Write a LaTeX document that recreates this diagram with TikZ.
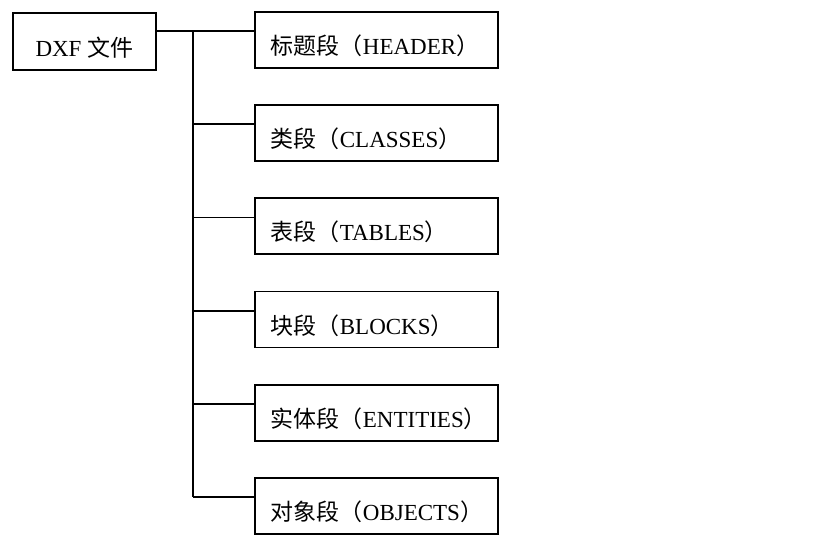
\documentclass[tikz,border=0pt]{standalone}
\usepackage{fontspec}
\setmainfont{Liberation Serif}
\newfontfamily\cjk{Noto Sans CJK SC}
\usetikzlibrary{positioning}
\newcommand{\seg}[2]{{\cjk #1（}#2{\cjk ）}}
\tikzset{
  secbox/.style={draw, line width=1.8pt, minimum width=243pt, minimum height=56pt,
    text width=211pt, align=left, inner xsep=16pt, inner ysep=0pt,
    text height=30pt, text depth=1pt},
  rootbox/.style={draw, line width=1.8pt, minimum width=143pt, minimum height=57pt,
    inner ysep=0pt, text height=32pt, text depth=1pt},
  link/.style={line width=1.8pt}
}

\begin{document}
\begin{tikzpicture}[x=1pt, y=-1pt, node distance=35.4pt, font=\fontsize{23}{27}\selectfont]
			\useasboundingbox (0,0) rectangle (819,538);
			% root
			\node[rootbox, anchor=north west] (dxf) at (12,12) {DXF {\cjk 文件}};
			% sections
			\node[secbox, anchor=north west] (hdr) at (254,11) {\seg{标题段}{HEADER}};
			\node[secbox, below=of hdr] (cls) {\seg{类段}{CLASSES}};
			\node[secbox, below=of cls] (tbl) {\seg{表段}{TABLES}};
			\node[secbox, below=of tbl] (blk) {\seg{块段}{BLOCKS}};
			\node[secbox, below=of blk] (ent) {\seg{实体段}{ENTITIES}};
			\node[secbox, below=of ent] (obj) {\seg{对象段}{OBJECTS}};
			% taps
			\coordinate (t0) at (193,31);
			\coordinate (c1) at ([yshift=-20pt]cls.north west);
			\coordinate (c2) at ([yshift=-20pt]tbl.north west);
			\coordinate (c3) at ([yshift=-20pt]blk.north west);
			\coordinate (c4) at ([yshift=-20pt]ent.north west);
			\coordinate (c5) at ([yshift=-20pt]obj.north west);
			% connectors
			\draw[link] (dxf.east |- t0) -- (hdr.west |- t0);
			\draw[link] (t0) -- (t0 |- c5);
			\draw[link] (t0 |- c1) -- (c1);
			\draw[link] (t0 |- c2) -- (c2);
			\draw[link] (t0 |- c3) -- (c3);
			\draw[link] (t0 |- c4) -- (c4);
			\draw[link] (t0 |- c5) -- (c5);
		\end{tikzpicture}
\end{document}
